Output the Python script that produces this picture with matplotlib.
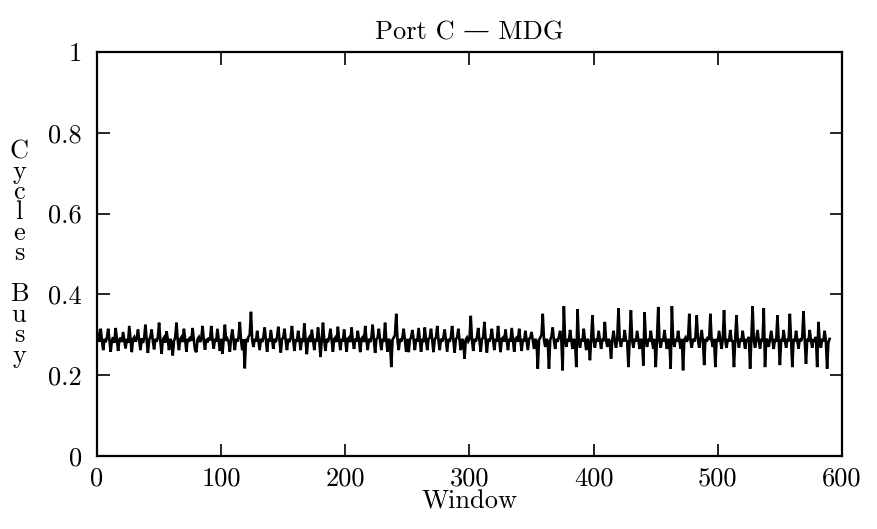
import matplotlib
matplotlib.use("Agg")
import matplotlib.pyplot as plt
import numpy as np

title = "Port C \u2014 MDG"
x_label = "Window"
y_label_letters = ["C", "y", "c", "l", "e", "s", "", "B", "u", "s", "y"]
x_ticks = [0, 100, 200, 300, 400, 500, 600]
x_tick_labels = ["0", "100", "200", "300", "400", "500", "600"]
y_ticks = [0, 0.2, 0.4, 0.6, 0.8, 1.0]
y_tick_labels = ["0", "0.2", "0.4", "0.6", "0.8", "1"]

# Fraction of cycles busy per window (windows 0..590)
busy = [
    .312, .290, .283, .315, .285, .262, .290, .282, .293, .315,
    .288, .258, .286, .294, .280, .317, .290, .260, .287, .293,
    .282, .307, .287, .266, .290, .280, .322, .288, .257, .289,
    .294, .283, .290, .313, .286, .262, .291, .280, .292, .325,
    .287, .255, .288, .295, .313, .284, .264, .290, .283, .294,
    .330, .286, .253, .288, .293, .281, .309, .289, .262, .290,
    .283, .249, .285, .293, .330, .287, .262, .289, .294, .282,
    .315, .288, .258, .290, .283, .295, .285, .317, .287, .262,
    .257, .289, .294, .282, .290, .322, .286, .263, .290, .281,
    .293, .286, .322, .288, .266, .290, .283, .315, .287, .260,
    .290, .253, .287, .325, .285, .290, .282, .258, .293, .313,
    .287, .262, .290, .283, .294, .332, .286, .262, .289, .217,
    .290, .282, .295, .300, .357, .286, .270, .290, .283, .310,
    .287, .262, .290, .282, .294, .318, .287, .258, .290, .283,
    .312, .288, .265, .290, .282, .294, .320, .286, .256, .289,
    .293, .315, .285, .262, .290, .282, .293, .322, .287, .260,
    .289, .283, .310, .288, .262, .291, .282, .328, .286, .252,
    .289, .294, .282, .313, .287, .262, .290, .283, .318, .286,
    .245, .288, .330, .287, .260, .290, .282, .294, .315, .286,
    .258, .289, .293, .282, .320, .287, .262, .290, .283, .313,
    .287, .258, .290, .293, .282, .318, .286, .265, .290, .283,
    .310, .287, .257, .290, .294, .282, .322, .288, .262, .290,
    .282, .294, .325, .286, .255, .289, .293, .315, .286, .262,
    .290, .283, .330, .287, .258, .290, .284, .220, .288, .293,
    .300, .352, .287, .262, .290, .283, .294, .315, .286, .258,
    .290, .257, .288, .294, .312, .286, .262, .290, .283, .317,
    .287, .258, .290, .282, .318, .286, .262, .290, .293, .315,
    .286, .257, .289, .293, .322, .287, .262, .290, .283, .294,
    .313, .286, .258, .290, .283, .294, .322, .287, .256, .289,
    .293, .315, .286, .262, .290, .283, .241, .288, .293, .284,
    .290, .347, .287, .260, .290, .283, .294, .317, .286, .258,
    .289, .293, .332, .287, .256, .290, .283, .294, .315, .286,
    .262, .290, .283, .322, .287, .257, .290, .293, .283, .313,
    .286, .262, .290, .283, .317, .287, .258, .290, .293, .283,
    .315, .286, .260, .290, .283, .310, .287, .262, .290, .293,
    .307, .286, .265, .290, .283, .216, .288, .293, .300, .352,
    .287, .270, .290, .283, .216, .288, .295, .318, .285, .265,
    .290, .283, .295, .310, .285, .212, .371, .287, .270, .290,
    .283, .312, .287, .265, .290, .283, .220, .363, .286, .268,
    .290, .283, .315, .286, .262, .290, .284, .237, .290, .348,
    .286, .268, .290, .283, .310, .287, .265, .290, .284, .332,
    .287, .270, .290, .283, .241, .288, .310, .286, .268, .290,
    .366, .287, .270, .290, .283, .312, .286, .284, .220, .290,
    .361, .286, .268, .290, .283, .310, .287, .265, .290, .284,
    .224, .356, .287, .270, .290, .283, .310, .286, .266, .290,
    .220, .290, .369, .286, .268, .290, .283, .312, .287, .265,
    .290, .284, .216, .371, .287, .270, .290, .283, .310, .286,
    .266, .290, .212, .288, .293, .283, .290, .352, .286, .268,
    .290, .283, .295, .348, .287, .268, .290, .312, .284, .225,
    .290, .283, .295, .287, .352, .286, .270, .290, .220, .290,
    .283, .310, .287, .265, .290, .361, .286, .268, .290, .283,
    .312, .286, .284, .220, .290, .348, .287, .268, .290, .283,
    .310, .286, .265, .290, .283, .295, .216, .290, .371, .286,
    .268, .290, .312, .284, .266, .290, .283, .366, .220, .290,
    .286, .270, .290, .310, .286, .265, .290, .283, .348, .287,
    .225, .290, .283, .312, .286, .268, .290, .284, .352, .287,
    .220, .290, .283, .310, .286, .266, .290, .284, .295, .358,
    .287, .228, .290, .283, .312, .286, .268, .290, .283, .295,
    .220, .332, .287, .268, .290, .283, .310, .286, .216, .280,
    .290,
]

plt.rcParams["font.family"] = ["cmr10", "DejaVu Serif"]
plt.rcParams["axes.formatter.use_mathtext"] = True

W, H = 877, 529
FS = 19
fig = plt.figure(figsize=(W / 100, H / 100), dpi=100)
ax = fig.add_axes([97 / W, 1 - 456 / H, (842 - 97) / W, (456 - 52) / H])

windows = np.arange(len(busy))
ax.plot(windows, busy, color="black", lw=1.9, solid_joinstyle="miter")

ax.set_xlim(0, 600)
ax.set_ylim(0, 1)
ax.set_xticks(x_ticks)
ax.set_xticklabels(x_tick_labels)
ax.set_yticks(y_ticks)
ax.set_yticklabels(y_tick_labels)
ax.tick_params(axis="both", direction="in", length=9, width=1.2,
               top=True, right=True, labelsize=FS)
ax.tick_params(axis="x", pad=8)
ax.tick_params(axis="y", pad=11)
for s in ax.spines.values():
    s.set_linewidth(1.6)

ax.set_title(title, fontsize=FS, pad=9)
ax.set_xlabel(x_label, fontsize=FS, labelpad=-1)

# stacked vertical y-axis label, one letter per line, as one text
fig.text(19 / W, 1 - 253.5 / H, "\n".join(y_label_letters),
         ha="center", va="center", multialignment="center",
         linespacing=0.825, fontsize=FS)

fig.savefig("out.png", dpi=100)
